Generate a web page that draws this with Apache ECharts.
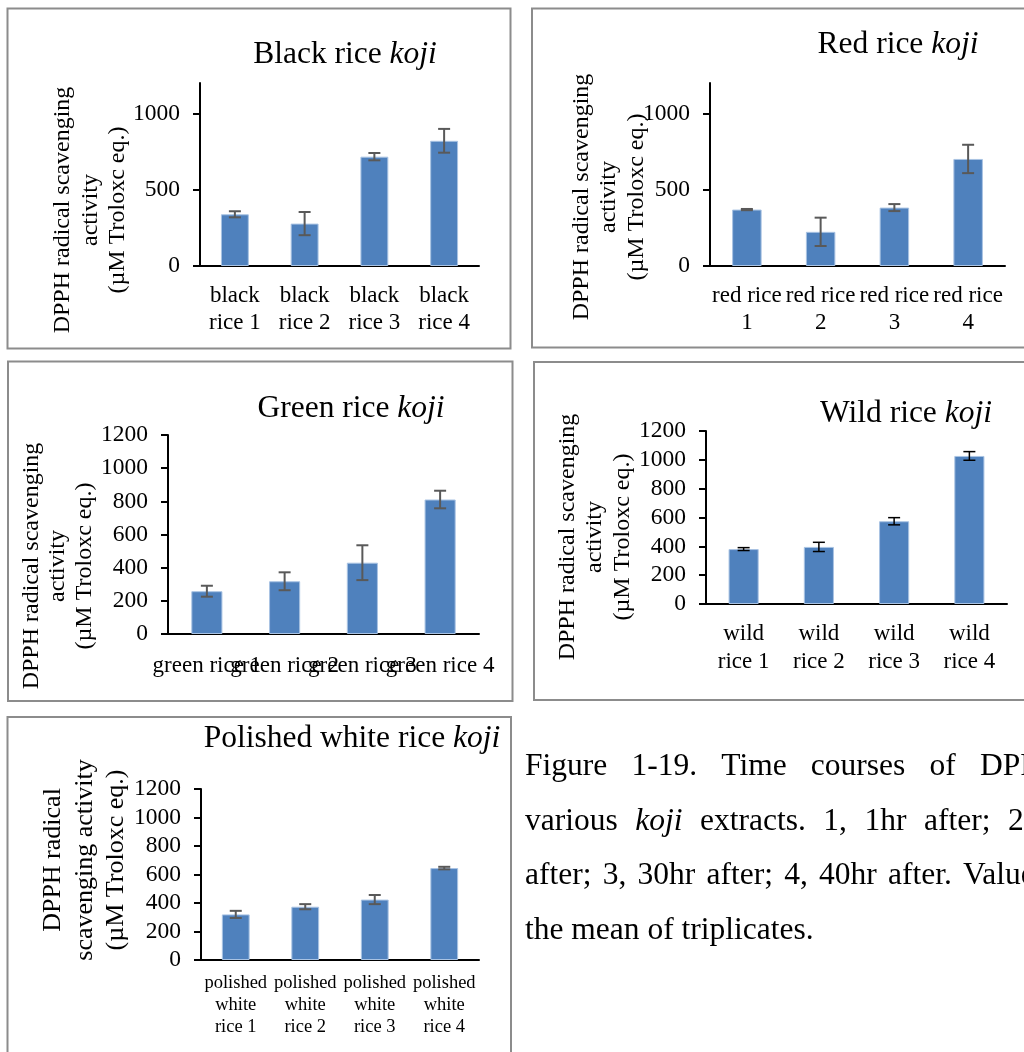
<!DOCTYPE html>
<html><head><meta charset="utf-8">
<script src="https://cdn.jsdelivr.net/npm/echarts@6/dist/echarts.min.js"></script>
<style>html,body{margin:0;padding:0;background:#fff}#c{width:1024px;height:1052px}</style>
</head><body><div id="c"></div>
<script>
// ---------------- DATA ----------------
const blackCategories = ['black\nrice 1', 'black\nrice 2', 'black\nrice 3', 'black\nrice 4'];
const blackMeans = [339, 278, 717, 821];
const blackErrors = [20, 76, 24, 78];

const redCategories = ['red rice\n1', 'red rice\n2', 'red rice\n3', 'red rice\n4'];
const redMeans = [370, 224, 383, 702];
const redErrors = [4, 93, 23, 93];

const greenCategories = ['green rice 1', 'green rice 2', 'green rice 3', 'green rice 4'];
const greenMeans = [258, 318, 430, 811];
const greenErrors = [33, 54, 105, 53];

const wildCategories = ['wild\nrice 1', 'wild\nrice 2', 'wild\nrice 3', 'wild\nrice 4'];
const wildMeans = [381, 396, 574, 1027];
const wildErrors = [10, 32, 25, 30];

const polishedCategories = ['polished\nwhite\nrice 1', 'polished\nwhite\nrice 2', 'polished\nwhite\nrice 3', 'polished\nwhite\nrice 4'];
const polishedMeans = [320, 374, 424, 645];
const polishedErrors = [25, 18, 32, 9];

const axisMax = 1200;
const coarseTickValues = [0, 500, 1000];
const fineInterval = 200;

const yNameDefault = 'DPPH radical scavenging\nactivity\n(µM Troloxc eq.)';
const yNamePolished = 'DPPH radical\nscavenging activity\n(µM Troloxc eq.)';

const captionText = [
  ['Figure', '1-19.', 'Time', 'courses', 'of', 'DPPH'],
  ['various', '*koji', 'extracts.', '1,', '1hr', 'after;', '20hr'],
  ['after;', '3,', '30hr', 'after;', '4,', '40hr', 'after.', 'Values'],
  ['the mean of triplicates.']
];

// ---------------- LAYOUT / STYLE ----------------
const FONT = "'Liberation Serif','Times New Roman',serif";
const BAR = '#4F81BD';

const panels = [
  { title: 'Black rice ', cats: blackCategories, means: blackMeans, errs: blackErrors,
    grid: { left: 200, top: 83, width: 279, height: 183 }, coarse: true,
    catFont: 23, catLH: 27, catMargin: 16.5, errColor: '#595959', errWidth: 2,
    titlePos: [345, 55], yName: yNameDefault, yNamePos: [90.5, 210], yNameFont: 24, yNameLH: 27.5 },
  { title: 'Red rice ', cats: redCategories, means: redMeans, errs: redErrors,
    grid: { left: 710, top: 83, width: 295, height: 183 }, coarse: true,
    catFont: 23, catLH: 27, catMargin: 16.5, errColor: '#595959', errWidth: 2,
    titlePos: [898, 45], yName: yNameDefault, yNamePos: [609, 197], yNameFont: 24, yNameLH: 27.5 },
  { title: 'Green rice ', cats: greenCategories, means: greenMeans, errs: greenErrors,
    grid: { left: 168, top: 435, width: 311, height: 199 }, coarse: false,
    catFont: 23, catLH: 27, catMargin: 18, errColor: '#595959', errWidth: 2,
    titlePos: [351, 409], yName: yNameDefault, yNamePos: [58, 566], yNameFont: 24, yNameLH: 26.5 },
  { title: 'Wild rice ', cats: wildCategories, means: wildMeans, errs: wildErrors,
    grid: { left: 706, top: 431, width: 301, height: 173 }, coarse: false,
    catFont: 23, catLH: 28, catMargin: 16, errColor: '#000000', errWidth: 1.5,
    titlePos: [906, 414], yName: yNameDefault, yNamePos: [595, 537], yNameFont: 24, yNameLH: 27.5 },
  { title: 'Polished white rice ', cats: polishedCategories, means: polishedMeans, errs: polishedErrors,
    grid: { left: 201, top: 789, width: 278, height: 171 }, coarse: false,
    catFont: 18.5, catLH: 22, catMargin: 12, errColor: '#595959', errWidth: 2,
    titlePos: [352, 739], yName: yNamePolished, yNamePos: [85, 860], yNameFont: 26, yNameLH: 31.5 }
];

const borders = [
  [7.5, 8.5, 503, 340],
  [532, 8.5, 520, 339],
  [8, 361.5, 504.5, 339.5],
  [534, 362, 520, 338],
  [7.5, 717, 503.5, 360]
];

// caption line layout: [y, x of first word, x of last word start (justified) or null]
const captionLayout = [[767, 525, 980], [821.5, 525, 1008], [876, 525, 963], [930.5, 525, null]];
const CAPTION_SIZE = 31.5;

// ---------------- BUILD ----------------
const grids = [], xAxes = [], yAxes = [], series = [], graphics = [];

borders.forEach(b => graphics.push({
  type: 'rect', silent: true, z: 0,
  shape: { x: b[0], y: b[1], width: b[2], height: b[3] },
  style: { fill: 'none', stroke: '#8c8c8c', lineWidth: 2 }
}));

panels.forEach((p, i) => {
  grids.push(Object.assign({ containLabel: false }, p.grid));
  xAxes.push({
    type: 'category', gridIndex: i, data: p.cats,
    axisLine: { show: true, onZero: false, lineStyle: { color: '#000', width: 2 } },
    axisTick: { show: false },
    axisLabel: { interval: 0, color: '#000', fontFamily: FONT, fontSize: p.catFont,
                 lineHeight: p.catLH, margin: p.catMargin, hideOverlap: false },
    splitLine: { show: false }
  });
  const y = {
    type: 'value', gridIndex: i, min: 0, max: axisMax,
    splitLine: { show: false },
    axisLine: { show: true, lineStyle: { color: '#000', width: 2 } },
    axisTick: { show: true, inside: false, length: 7, lineStyle: { color: '#000', width: 2 } },
    axisLabel: { color: '#000', fontFamily: FONT, fontSize: 23.5, margin: 20,
                 formatter: v => String(v) }
  };
  if (p.coarse) {
    y.interval = 500;
    y.axisTick.customValues = coarseTickValues;
    y.axisLabel.customValues = coarseTickValues;
  } else {
    y.interval = fineInterval;
  }
  yAxes.push(y);

  series.push({
    type: 'bar', xAxisIndex: i, yAxisIndex: i, data: p.means, barWidth: '40%',
    silent: true, animation: false,
    itemStyle: { color: BAR, borderColor: '#a9c3e3', borderWidth: 1 }
  });
  series.push({
    type: 'custom', xAxisIndex: i, yAxisIndex: i, silent: true, animation: false, z: 5,
    data: p.means.map((m, k) => [k, m, p.errs[k]]),
    encode: { x: 0, y: 1 },
    renderItem: (params, api) => {
      const xi = api.value(0), m = api.value(1), e = api.value(2);
      const top = api.coord([xi, m + e]);
      const bot = api.coord([xi, m - e]);
      const half = 6;
      const st = { stroke: p.errColor, lineWidth: p.errWidth };
      return { type: 'group', children: [
        { type: 'line', shape: { x1: top[0], y1: top[1], x2: bot[0], y2: bot[1] }, style: st },
        { type: 'line', shape: { x1: top[0] - half, y1: top[1], x2: top[0] + half, y2: top[1] }, style: st },
        { type: 'line', shape: { x1: bot[0] - half, y1: bot[1], x2: bot[0] + half, y2: bot[1] }, style: st }
      ] };
    }
  });

  graphics.push({
    type: 'text', silent: true, z: 10, x: p.titlePos[0], y: p.titlePos[1],
    style: {
      text: '{n|' + p.title + '}{i|koji}', align: 'center', verticalAlign: 'middle',
      rich: {
        n: { fontFamily: FONT, fontSize: 31.5, fill: '#000' },
        i: { fontFamily: FONT, fontSize: 31.5, fontStyle: 'italic', fill: '#000' }
      }
    }
  });
  graphics.push({
    type: 'text', silent: true, z: 10, x: p.yNamePos[0], y: p.yNamePos[1], rotation: Math.PI / 2,
    style: {
      text: p.yName, align: 'center', verticalAlign: 'middle',
      fontFamily: FONT, fontSize: p.yNameFont, lineHeight: p.yNameLH, fill: '#000'
    }
  });
});

// justified caption (words spread between first-word x and last-word start x)
const measureCtx = document.createElement('canvas').getContext('2d');
function wordWidth(word, italic) {
  measureCtx.font = (italic ? 'italic ' : '') + CAPTION_SIZE + 'px ' + FONT;
  return measureCtx.measureText(word).width;
}
captionText.forEach((words, li) => {
  const [y, x0, xLast] = captionLayout[li];
  const items = words.map(w => ({ text: w.replace(/^\*/, ''), italic: w[0] === '*' }));
  let gap = 0;
  if (xLast !== null && items.length > 1) {
    let sum = 0;
    for (let k = 0; k < items.length - 1; k++) sum += wordWidth(items[k].text, items[k].italic);
    gap = (xLast - x0 - sum) / (items.length - 1);
  }
  let x = x0;
  items.forEach(it => {
    graphics.push({
      type: 'text', silent: true, z: 10, x: x, y: y,
      style: { text: it.text, align: 'left', verticalAlign: 'middle', fontFamily: FONT,
               fontSize: CAPTION_SIZE, fontStyle: it.italic ? 'italic' : 'normal', fill: '#000' }
    });
    x += wordWidth(it.text, it.italic) + gap;
  });
});

const chart = echarts.init(document.getElementById('c'), null, { renderer: 'canvas' });
chart.setOption({
  animation: false,
  backgroundColor: '#fff',
  grid: grids, xAxis: xAxes, yAxis: yAxes, series: series, graphic: graphics
});
</script>
</body></html>
